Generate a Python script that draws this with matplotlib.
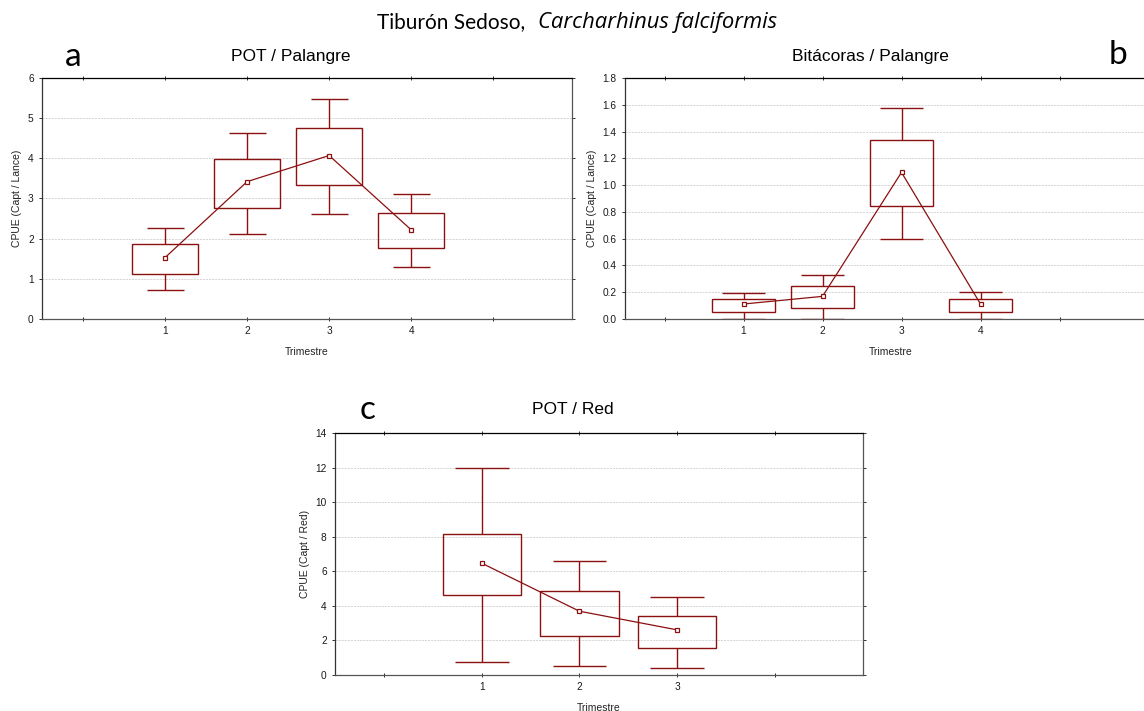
import numpy as np
import matplotlib
matplotlib.use("Agg")
import matplotlib.pyplot as plt

# values: mean, box (low/high), whiskers (low/high)
trim_a = [1, 2, 3, 4]
mean_a = [1.53, 3.42, 4.07, 2.22]
box_lo_a = [1.11, 2.76, 3.34, 1.77]
box_hi_a = [1.86, 3.99, 4.75, 2.63]
wh_lo_a = [0.71, 2.12, 2.61, 1.30]
wh_hi_a = [2.26, 4.62, 5.48, 3.10]

trim_b = [1, 2, 3, 4]
mean_b = [0.112, 0.169, 1.095, 0.112]
box_lo_b = [0.050, 0.082, 0.844, 0.052]
box_hi_b = [0.149, 0.244, 1.337, 0.152]
wh_lo_b = [0.0, 0.0, 0.600, 0.0]
wh_hi_b = [0.197, 0.326, 1.578, 0.199]

trim_c = [1, 2, 3]
mean_c = [6.47, 3.69, 2.61]
box_lo_c = [4.61, 2.26, 1.54]
box_hi_c = [8.13, 4.88, 3.44]
wh_lo_c = [0.73, 0.54, 0.42]
wh_hi_c = [12.0, 6.62, 4.54]

col = '#8b1010'
plt.rcParams['font.family'] = ['Liberation Sans', 'DejaVu Sans']

fig = plt.figure(figsize=(11.44, 7.11), dpi=100)


def box_panel(ax, x, mean, blo, bhi, wlo, whi, yticks, yfmt, xmax, ylabel, cap=0.5):
    x = np.array(x)
    ax.bar(x, np.array(bhi) - np.array(blo), bottom=blo, width=0.8,
           fill=False, edgecolor=col, linewidth=1.0, zorder=3)
    ax.vlines(x, wlo, blo, color=col, linewidth=1.0, zorder=3)
    ax.vlines(x, bhi, whi, color=col, linewidth=1.0, zorder=3)
    ax.hlines(wlo, x - cap / 2, x + cap / 2, color=col, linewidth=1.0, zorder=3)
    ax.hlines(whi, x - cap / 2, x + cap / 2, color=col, linewidth=1.0, zorder=3)
    ax.plot(x, mean, color=col, linewidth=0.9, marker='s', markersize=3.5,
            markerfacecolor='white', markeredgecolor=col, markeredgewidth=0.9, zorder=4)
    ax.set_xlim(-0.5, xmax)
    ax.set_ylim(yticks[0], yticks[-1])
    ax.set_yticks(yticks)
    ax.set_yticklabels([yfmt.format(v) for v in yticks])
    ax.set_xticks(x)
    ax.set_xticklabels([str(v) for v in x])
    ax.set_xticks([0, x[-1] + 1], minor=True)
    ax.grid(axis='y', linestyle=(0, (2.5, 1.2)), color='#cfcfcf', linewidth=0.6, zorder=0)
    ax.tick_params(axis='both', labelsize=7.3, length=2.5, width=0.7, colors='#333333',
                   labelcolor='#1a1a1a')
    ax.tick_params(axis='x', which='both', top=True, direction='inout')
    ax.tick_params(axis='y', right=True)
    ax.tick_params(axis='x', which='minor', length=2.5)
    for s in ax.spines.values():
        s.set_linewidth(0.9)
    ax.spines['bottom'].set_color('#555555')
    ax.spines['left'].set_color('#333333')
    ax.spines['right'].set_color('#555555')
    ax.set_ylabel(ylabel, fontsize=7.5, color='#222222', labelpad=4)
    ax.set_xlabel('Trimestre', fontsize=7.5, color='#222222', labelpad=8)


ax_a = fig.add_axes([42 / 1144, 1 - 319 / 711, 530 / 1144, 241 / 711])
box_panel(ax_a, trim_a, mean_a, box_lo_a, box_hi_a, wh_lo_a, wh_hi_a,
          [0, 1, 2, 3, 4, 5, 6], '{:g}', 5.96, 'CPUE (Capt / Lance)', cap=0.45)

ax_b = fig.add_axes([625 / 1144, 1 - 319 / 711, 532 / 1144, 241 / 711])
box_panel(ax_b, trim_b, mean_b, box_lo_b, box_hi_b, wh_lo_b, wh_hi_b,
          [0.0, 0.2, 0.4, 0.6, 0.8, 1.0, 1.2, 1.4, 1.6, 1.8], '{:.1f}', -0.5 + 532 / 79,
          'CPUE (Capt / Lance)', cap=0.55)

ax_c = fig.add_axes([335 / 1144, 1 - 675 / 711, 528 / 1144, 242 / 711])
box_panel(ax_c, trim_c, mean_c, box_lo_c, box_hi_c, wh_lo_c, wh_hi_c,
          [0, 2, 4, 6, 8, 10, 12, 14], '{:g}', 4.9, 'CPUE (Capt / Red)', cap=0.55)

# panel titles
fig.text(291 / 1144, 1 - 57 / 711, 'POT / Palangre', ha='center', va='center', fontsize=12.5)
fig.text(870 / 1144, 1 - 57 / 711, 'Bitácoras / Palangre', ha='center', va='center', fontsize=12.5)
fig.text(573 / 1144, 1 - 409 / 711, 'POT / Red', ha='center', va='center', fontsize=12.5)

# panel letters
fig.text(73 / 1144, 1 - 57 / 711, 'a', ha='center', va='center', fontsize=24, family='Lato')
fig.text(1118 / 1144, 1 - 55 / 711, 'b', ha='center', va='center', fontsize=24, family='Lato')
fig.text(368 / 1144, 1 - 410 / 711, 'c', ha='center', va='center', fontsize=24, family='Lato')

# main title
fig.text(525 / 1144, 1 - 28 / 711, 'Tiburón Sedoso,', ha='right', va='baseline',
         fontsize=15, family='Lato')
fig.text(538 / 1144, 1 - 28 / 711, 'Carcharhinus falciformis', ha='left', va='baseline',
         fontsize=15.8, family=['Open Sans', 'Lato'], style='italic')

fig.savefig('out.png', dpi=100)
